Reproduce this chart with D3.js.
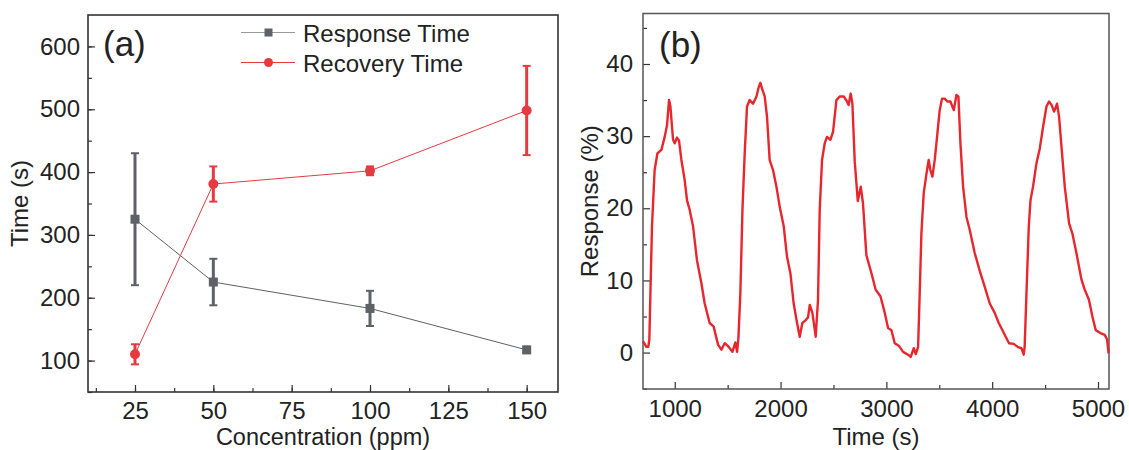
<!DOCTYPE html>
<meta charset="utf-8">
<style>
body { margin: 0; background: #fff; }
svg { font-family: "Liberation Sans", Arial, sans-serif; }
.tick text { font-size: 24px; fill: #222; }
.tick line { stroke: #333; stroke-width: 1.2; }
.axis path { display: none; }
.title { font-size: 24px; fill: #222; }
.panel { font-size: 35px; fill: #222; }
</style>
<body>
<svg width="1129" height="450"></svg>
<script src="https://d3js.org/d3.v7.min.js"></script>
<script>

// panel (a)
var concentration = [25, 50, 100, 150];
var responseTime = [325, 225, 183, 117];
var responseErr = [105, 37, 28, 5];
var recoveryTime = [110, 381, 402, 498];
var recoveryErr = [16, 28, 7, 71];
var aXTicks = [25, 50, 75, 100, 125, 150];
var aYTicks = [100, 200, 300, 400, 500, 600];

// panel (b)
var bTime = [700, 732, 750, 760, 770, 785, 810, 836, 874, 905, 927, 946, 959, 984, 1000, 1021, 1040, 1063, 1094, 1116,
  1141, 1173, 1210, 1252, 1283, 1330, 1368, 1409, 1441, 1472, 1504, 1545, 1573, 1589, 1601, 1620, 1640, 1661, 1683, 1708,
  1740, 1772, 1794, 1810, 1829, 1850, 1872, 1897, 1929, 1961, 1992, 2030, 2061, 2093, 2124, 2156, 2181, 2206, 2238, 2260,
  2276, 2301, 2332, 2354, 2370, 2392, 2417, 2439, 2471, 2496, 2528, 2559, 2597, 2628, 2643, 2663, 2679, 2701, 2730, 2758,
  2779, 2811, 2859, 2899, 2944, 2985, 3016, 3048, 3079, 3120, 3158, 3205, 3230, 3259, 3278, 3300, 3315, 3331, 3353, 3379,
  3400, 3416, 3435, 3457, 3479, 3504, 3526, 3552, 3577, 3605, 3637, 3662, 3681, 3700, 3725, 3757, 3788, 3835, 3889, 3930,
  3977, 4024, 4062, 4097, 4128, 4159, 4204, 4244, 4277, 4298, 4307, 4324, 4346, 4362, 4386, 4418, 4450, 4481, 4513, 4537,
  4562, 4585, 4613, 4632, 4655, 4686, 4727, 4758, 4796, 4844, 4875, 4915, 4947, 4979, 5023, 5064, 5086, 5100];
var bResponse = [1.6, 0.8, 0.8, 1.8, 8.2, 17.5, 25.3, 27.6, 28.1, 29.9, 31.5, 35.0, 34.1, 29.5, 29.0, 29.8, 29.4, 26.7, 23.9, 21.1,
  19.8, 17.5, 12.8, 9.6, 6.8, 4.1, 3.6, 1.1, 0.4, 1.3, 0.9, 0.1, 1.4, 0.1, 1.8, 8.2, 19.8, 27.6, 34.1, 35.0,
  34.5, 35.5, 36.8, 37.4, 36.4, 35.5, 32.7, 26.7, 25.3, 23.0, 20.2, 17.5, 13.3, 11.0, 6.8, 4.1, 2.2, 4.1, 4.5, 4.9,
  6.6, 5.5, 2.2, 7.3, 19.8, 26.7, 29.0, 29.9, 29.5, 30.6, 35.0, 35.5, 35.5, 34.8, 34.3, 35.9, 34.5, 26.5, 21.0, 23.0,
  20.7, 13.5, 11.0, 8.7, 7.8, 5.5, 3.4, 3.1, 1.3, 0.9, 0.1, -0.3, -0.6, 0.6, -0.2, 0.8, 8.2, 16.5, 22.1, 24.8,
  26.7, 25.3, 24.4, 26.7, 29.9, 33.6, 35.2, 35.2, 34.8, 34.8, 33.6, 35.7, 35.5, 29.0, 23.0, 18.8, 17.0, 13.8, 11.0, 9.1,
  6.8, 5.5, 4.1, 3.1, 2.2, 1.3, 1.2, 0.75, 0.6, -0.3, 0.8, 8.2, 17.5, 21.1, 23.0, 26.2, 28.3, 31.3, 34.1, 34.8,
  34.3, 33.4, 34.5, 32.7, 28.5, 23.0, 17.9, 16.5, 13.8, 10.1, 8.7, 7.3, 5.0, 3.1, 2.7, 2.45, 1.8, -0.1];
var bXTicks = [1000, 2000, 3000, 4000, 5000];
var bYTicks = [0, 10, 20, 30, 40];

var gray = "#5f6166", red = "#e63a41", lineRed = "#e8262d";

var svg = d3.select("svg");

// ---------- panel (a) ----------
var a = {left: 88, right: 558, top: 15, bottom: 392};
var xa = d3.scaleLinear().domain([10, 160]).range([a.left, a.right]);
var ya = d3.scaleLinear().domain([50, 650]).range([a.bottom, a.top]);

svg.append("g").attr("class", "axis")
    .attr("transform", "translate(0," + a.bottom + ")")
    .call(d3.axisBottom(xa).tickValues(d3.range(12.5, 160, 12.5)).tickSize(-4).tickFormat(""));
svg.append("g").attr("class", "axis")
    .attr("transform", "translate(0," + a.bottom + ")")
    .call(d3.axisBottom(xa).tickValues(aXTicks).tickSize(-7).tickPadding(10));
svg.append("g").attr("class", "axis")
    .attr("transform", "translate(" + a.left + ",0)")
    .call(d3.axisLeft(ya).tickValues(d3.range(50, 650, 50)).tickSize(-4).tickFormat(""));
svg.append("g").attr("class", "axis")
    .attr("transform", "translate(" + a.left + ",0)")
    .call(d3.axisLeft(ya).tickValues(aYTicks).tickSize(-7).tickPadding(8));

svg.append("rect")
    .attr("x", a.left).attr("y", a.top)
    .attr("width", a.right - a.left).attr("height", a.bottom - a.top)
    .attr("fill", "none").attr("stroke", "#333").attr("stroke-width", 1.6);

function series(vals, errs, color, shape) {
  var pts = concentration.map(function(c, i) { return {x: c, y: vals[i], e: errs[i]}; });
  var g = svg.append("g");
  g.append("path").datum(pts)
      .attr("fill", "none").attr("stroke", color).attr("stroke-width", 1)
      .attr("d", d3.line().x(function(d) { return xa(d.x); }).y(function(d) { return ya(d.y); }));
  var eb = g.selectAll(".eb").data(pts).enter().append("g").attr("stroke", color);
  eb.append("line")
      .attr("x1", function(d) { return xa(d.x); }).attr("x2", function(d) { return xa(d.x); })
      .attr("y1", function(d) { return ya(d.y - d.e); }).attr("y2", function(d) { return ya(d.y + d.e); })
      .attr("stroke-width", 3);
  [-1, 1].forEach(function(s) {
    eb.append("line")
        .attr("x1", function(d) { return xa(d.x) - 4; }).attr("x2", function(d) { return xa(d.x) + 4; })
        .attr("y1", function(d) { return ya(d.y + s * d.e); }).attr("y2", function(d) { return ya(d.y + s * d.e); })
        .attr("stroke-width", 2);
  });
  if (shape === "square") {
    g.selectAll(".m").data(pts).enter().append("rect")
        .attr("x", function(d) { return xa(d.x) - 4.5; }).attr("y", function(d) { return ya(d.y) - 4.5; })
        .attr("width", 9).attr("height", 9).attr("fill", color);
  } else {
    g.selectAll(".m").data(pts).enter().append("circle")
        .attr("cx", function(d) { return xa(d.x); }).attr("cy", function(d) { return ya(d.y); })
        .attr("r", 5).attr("fill", color);
  }
}
series(responseTime, responseErr, gray, "square");
series(recoveryTime, recoveryErr, red, "circle");

// legend
var leg = svg.append("g");
leg.append("line").attr("x1", 241).attr("x2", 295).attr("y1", 32.5).attr("y2", 32.5).attr("stroke", "#999").attr("stroke-width", 1.2);
leg.append("rect").attr("x", 264.5).attr("y", 28.5).attr("width", 8).attr("height", 8).attr("fill", gray);
leg.append("text").attr("class", "title").attr("x", 303).attr("y", 41.5).text("Response Time");
leg.append("line").attr("x1", 241).attr("x2", 295).attr("y1", 62.5).attr("y2", 62.5).attr("stroke", red).attr("stroke-width", 1.2);
leg.append("circle").attr("cx", 268.5).attr("cy", 62.5).attr("r", 4.5).attr("fill", red);
leg.append("text").attr("class", "title").attr("x", 303).attr("y", 71.5).text("Recovery Time");

svg.append("text").attr("class", "panel").attr("x", 103).attr("y", 56).text("(a)");
svg.append("text").attr("class", "title").attr("text-anchor", "middle").style("font-size", "23.5px")
    .attr("x", (a.left + a.right) / 2).attr("y", 444.5).text("Concentration (ppm)");
svg.append("text").attr("class", "title").attr("text-anchor", "middle")
    .attr("transform", "translate(28," + (a.top + a.bottom) / 2 + ") rotate(-90)").text("Time (s)");

// ---------- panel (b) ----------
var b = {left: 643, right: 1109, top: 13.5, bottom: 389};
var xb = d3.scaleLinear().domain([700, 5104]).range([b.left, b.right]);
var yb = d3.scaleLinear().domain([-5.05, 47]).range([b.bottom, b.top]);

svg.append("g").attr("class", "axis")
    .attr("transform", "translate(0," + b.bottom + ")")
    .call(d3.axisBottom(xb).tickValues(d3.range(1500, 5100, 1000)).tickSize(-4).tickFormat(""));
svg.append("g").attr("class", "axis")
    .attr("transform", "translate(0," + b.bottom + ")")
    .call(d3.axisBottom(xb).tickValues(bXTicks).tickSize(-7).tickPadding(11).tickFormat(d3.format("d")));
svg.append("g").attr("class", "axis")
    .attr("transform", "translate(" + b.left + ",0)")
    .call(d3.axisLeft(yb).tickValues([-5, 5, 15, 25, 35, 45]).tickSize(-4).tickFormat(""));
svg.append("g").attr("class", "axis")
    .attr("transform", "translate(" + b.left + ",0)")
    .call(d3.axisLeft(yb).tickValues(bYTicks).tickSize(-7).tickPadding(10));

svg.append("rect")
    .attr("x", b.left).attr("y", b.top)
    .attr("width", b.right - b.left).attr("height", b.bottom - b.top)
    .attr("fill", "none").attr("stroke", "#555").attr("stroke-width", 1.5);

svg.append("path")
    .datum(d3.range(bTime.length))
    .attr("fill", "none").attr("stroke", lineRed).attr("stroke-width", 2.4)
    .attr("stroke-linejoin", "round")
    .attr("d", d3.line().x(function(i) { return xb(bTime[i]); }).y(function(i) { return yb(bResponse[i]); }));

svg.append("text").attr("class", "panel").attr("x", 659).attr("y", 57).text("(b)");
svg.append("text").attr("class", "title").attr("text-anchor", "middle")
    .attr("x", (b.left + b.right) / 2).attr("y", 444.5).text("Time (s)");
svg.append("text").attr("class", "title").attr("text-anchor", "middle")
    .attr("transform", "translate(598," + (b.top + b.bottom) / 2 + ") rotate(-90)").text("Response (%)");

</script>
</body>
